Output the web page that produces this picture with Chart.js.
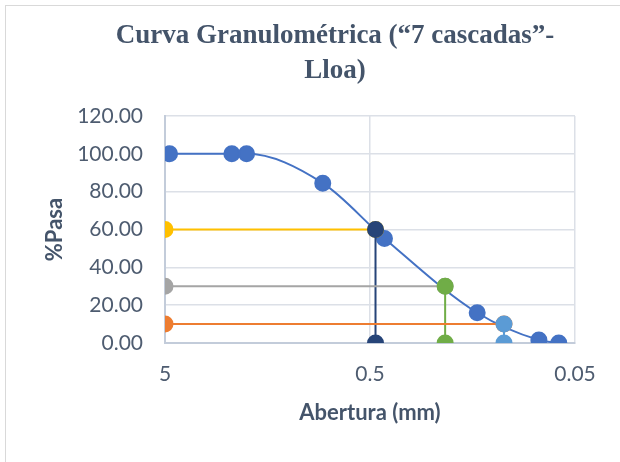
<!DOCTYPE html>
<html>
<head>
<meta charset="utf-8">
<script src="https://cdn.jsdelivr.net/npm/chart.js@4.4.1/dist/chart.umd.min.js"></script>
<style>
  html, body { margin: 0; padding: 0; background: #fff; overflow: hidden; }
  #frame { position: absolute; left: 5px; top: 5px; width: 700px; height: 600px; border: 1px solid #D9D9D9; box-sizing: border-box; }
  #wrap { position: absolute; left: 0; top: 0; width: 620px; height: 462px; }
</style>
</head>
<body>
<div id="frame"></div>
<div id="wrap"><canvas id="c" width="620" height="462"></canvas></div>
<script>
// Sieve data (aperture in mm, % passing)
const aperture = [4.75, 2.36, 2.0, 0.85, 0.425, 0.15, 0.075, 0.06];
const passing  = [100, 100, 100, 84.5, 55.3, 16, 1.6, 0];

// Characteristic diameters
const d60 = 0.47;
const d30 = 0.215;
const d10 = 0.111;

// Helper lines
const d60HorizX = [5, d60];  const d60HorizY = [60, 60];
const d60VertX  = [d60, d60]; const d60VertY = [60, 0];
const d30HorizX = [5, d30];  const d30HorizY = [30, 30];
const d30VertX  = [d30, d30]; const d30VertY = [30, 0];
const d10HorizX = [5, d10];  const d10HorizY = [10, 10];
const d10VertX  = [d10, d10]; const d10VertY = [10, 0];

// Axis ticks
const xTicks = [5, 0.5, 0.05];
const xTickLabels = ['5', '0.5', '0.05'];
const yTicks = [0, 20, 40, 60, 80, 100, 120];

const pts = (xs, ys) => xs.map((x, i) => ({ x: x, y: ys[i] }));

function series(label, xs, ys, color, order) {
  return {
    label: label,
    data: pts(xs, ys),
    borderColor: color,
    backgroundColor: color,
    pointBackgroundColor: color,
    pointBorderColor: color,
    pointRadius: 7.5,
    pointHoverRadius: 7.5,
    borderWidth: 2,
    showLine: true,
    tension: 0,
    order: order
  };
}

const mainSeries = series('%Pasa', aperture, passing, '#4472C4', 10);
mainSeries.cubicInterpolationMode = 'monotone';
mainSeries.tension = 0.4;

const datasets = [
  mainSeries,
  series('D60 h', d60HorizX, d60HorizY, '#FFC000', 6),
  series('D60 v', d60VertX, d60VertY, '#264478', 5),
  series('D30 h', d30HorizX, d30HorizY, '#A5A5A5', 4),
  series('D30 v', d30VertX, d30VertY, '#70AD47', 3),
  series('D10 h', d10HorizX, d10HorizY, '#ED7D31', 2),
  series('D10 v', d10VertX, d10VertY, '#5B9BD5', 1)
];

const textColor = '#44546A';
const tickColor = '#4E5C70';

new Chart(document.getElementById('c'), {
  type: 'scatter',
  data: { datasets: datasets },
  options: {
    responsive: false,
    animation: false,
    events: [],
    layout: { padding: { left: 40, right: -10, top: 5, bottom: 0 } },
    plugins: {
      legend: { display: false },
      tooltip: { enabled: false },
      title: {
        display: true,
        text: ['Curva Granulométrica (“7 cascadas”-', 'Lloa)'],
        color: textColor,
        font: { family: '"Liberation Serif", "Times New Roman", serif', size: 27, weight: 'bold', lineHeight: 1.28 },
        padding: { top: 14.2, bottom: 27.7 }
      }
    },
    scales: {
      x: {
        type: 'logarithmic',
        reverse: true,
        min: 0.05,
        max: 5,
        afterBuildTicks: (s) => { s.ticks = xTicks.map(v => ({ value: v })); },
        afterFit: (s) => { s.height = 119; },
        ticks: {
          autoSkip: false,
          maxRotation: 0,
          padding: 19,
          color: tickColor,
          font: { family: 'Lato, "Open Sans", sans-serif', size: 21 },
          callback: (v) => { const i = xTicks.indexOf(v); return i >= 0 ? xTickLabels[i] : ''; }
        },
        grid: { color: '#DCE0E7', lineWidth: 1.5, drawTicks: false },
        border: { color: '#C3CCDA', width: 2 },
        title: {
          display: true,
          text: 'Abertura (mm)',
          color: textColor,
          font: { family: 'Lato, "Open Sans", sans-serif', size: 22, weight: 'bold', lineHeight: 1.2 },
          padding: { top: 0, bottom: 36 }
        }
      },
      y: {
        type: 'linear',
        position: 'left',
        min: 0,
        max: 120,
        afterBuildTicks: (s) => { s.ticks = yTicks.map(v => ({ value: v })); },
        afterFit: (s) => { s.width = 125; },
        ticks: {
          padding: 22,
          color: tickColor,
          font: { family: 'Lato, "Open Sans", sans-serif', size: 21 },
          callback: (v) => Number(v).toFixed(2)
        },
        grid: { color: '#DCE0E7', lineWidth: 1.5, drawTicks: false },
        border: { color: '#C3CCDA', width: 2 },
        title: {
          display: true,
          text: '%Pasa',
          color: textColor,
          font: { family: 'Lato, "Open Sans", sans-serif', size: 22, weight: 'bold', lineHeight: 1.2 },
          padding: { top: 2, bottom: 0 }
        }
      },
      y2: {
        type: 'linear',
        position: 'right',
        display: true,
        min: 0,
        max: 120,
        afterFit: (s) => { s.width = 55; },
        ticks: { display: false },
        grid: { display: false, drawOnChartArea: false },
        border: { display: false }
      }
    }
  }
});
</script>
</body>
</html>
